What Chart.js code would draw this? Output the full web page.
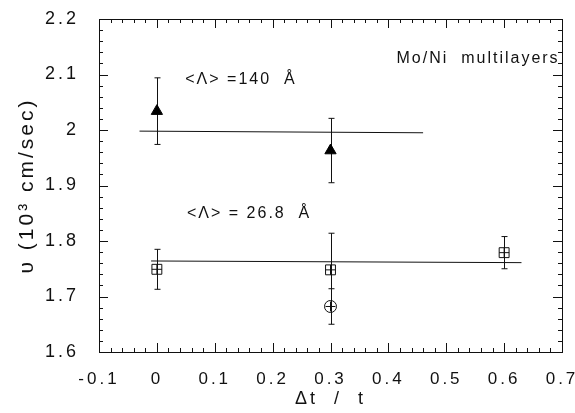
<!DOCTYPE html>
<html><head><meta charset="utf-8">
<script src="https://cdn.jsdelivr.net/npm/chart.js@4"></script>
<style>html,body{margin:0;padding:0;background:#fff}</style>
</head><body>
<canvas id="c" width="575" height="413"></canvas>
<script>
// ---- data ----
const xTicks = [-0.1, 0, 0.1, 0.2, 0.3, 0.4, 0.5, 0.6, 0.7];
const yTicks = [1.6, 1.7, 1.8, 1.9, 2.0, 2.1, 2.2];
const triX = [0, 0.3];
const triY = [2.034, 1.963];
const triErr = [0.060, 0.058];
const sqX = [0, 0.3, 0.6];
const sqY = [1.749, 1.748, 1.779];
const sqErr = [0.036, 0.066, 0.029];
const circX = [0.3];
const circY = [1.682];
const circErr = [0.032];
const fit1X = [-0.03, 0.46];
const fit1Y = [1.998, 1.995];
const fit2X = [-0.01, 0.63];
const fit2Y = [1.764, 1.761];
const notes = [
  {text: 'Mo/Ni  multilayers', x: 0.414, y: 2.1215},
  {text: '<Λ> =140  Å', x: 0.049, y: 2.0836},
  {text: '<Λ> = 26.8  Å', x: 0.052, y: 1.8417}
];

const pts = (xs, ys) => xs.map((x, i) => ({x: x, y: ys[i]}));
const FONT = "'Liberation Sans', Arial, Helvetica, sans-serif";
const INK = '#111';

const spacingPlugin = {
  id: 'spacing',
  beforeLayout(chart) { chart.ctx.letterSpacing = '3px'; },
  beforeDraw(chart) { chart.ctx.letterSpacing = '3px'; }
};

const framePlugin = {
  id: 'frame',
  beforeDatasetsDraw(chart) {
    const ctx = chart.ctx, a = chart.chartArea;
    const xs = chart.scales.x, ys = chart.scales.y;
    ctx.save();
    ctx.strokeStyle = INK; ctx.lineWidth = 1;
    ctx.strokeRect(Math.round(a.left) + 0.5, Math.round(a.top) + 0.5,
      Math.round(a.right - a.left), Math.round(a.bottom - a.top));
    ctx.beginPath();
    for (let k = 0; k <= 40; k++) {
      const v = xs.min + k * 0.02;
      const p = Math.round(xs.getPixelForValue(v)) + 0.5;
      const L = (k % 5 === 0) ? 9 : 4;
      ctx.moveTo(p, a.bottom); ctx.lineTo(p, a.bottom - L);
      ctx.moveTo(p, a.top); ctx.lineTo(p, a.top + L);
    }
    for (let k = 0; k <= 30; k++) {
      const v = ys.min + k * 0.02;
      const p = Math.round(ys.getPixelForValue(v)) + 0.5;
      const L = (k % 5 === 0) ? 9 : 4;
      ctx.moveTo(a.left, p); ctx.lineTo(a.left + L, p);
      ctx.moveTo(a.right, p); ctx.lineTo(a.right - L, p);
    }
    ctx.stroke();
    const bars = (X, Y, E) => {
      X.forEach((x, i) => {
        const px = Math.round(xs.getPixelForValue(x)) + 0.5;
        const t = ys.getPixelForValue(Y[i] + E[i]);
        const b = ys.getPixelForValue(Y[i] - E[i]);
        ctx.moveTo(px, t); ctx.lineTo(px, b);
        ctx.moveTo(px - 3, t); ctx.lineTo(px + 3, t);
        ctx.moveTo(px - 3, b); ctx.lineTo(px + 3, b);
      });
    };
    ctx.beginPath();
    bars(triX, triY, triErr);
    bars(sqX, sqY, sqErr);
    bars(circX, circY, circErr);
    ctx.stroke();
    ctx.restore();
  },
  afterDraw(chart) {
    const ctx = chart.ctx;
    const xs = chart.scales.x, ys = chart.scales.y;
    ctx.save();
    ctx.letterSpacing = '2px';
    ctx.font = '16px ' + FONT;
    ctx.fillStyle = INK;
    ctx.textBaseline = 'alphabetic';
    ctx.textAlign = 'left';
    notes.forEach(n => ctx.fillText(n.text, xs.getPixelForValue(n.x), ys.getPixelForValue(n.y)));
    ctx.restore();
  }
};

const fmt = v => String(Math.round(v * 10) / 10);

new Chart(document.getElementById('c'), {
  type: 'scatter',
  data: {
    datasets: [
      {data: pts(triX, triY), pointStyle: 'triangle', pointRadius: 6.5, backgroundColor: '#000', borderColor: '#000', borderWidth: 1},
      {data: pts(sqX, sqY), pointStyle: 'rect', pointRadius: 7, backgroundColor: 'rgba(0,0,0,0)', borderColor: INK, borderWidth: 1},
      {data: pts(sqX, sqY), pointStyle: 'cross', pointRadius: 5, borderColor: INK, borderWidth: 1},
      {data: pts(circX, circY), pointStyle: 'circle', pointRadius: 6, backgroundColor: 'rgba(0,0,0,0)', borderColor: INK, borderWidth: 1},
      {data: pts(circX, circY), pointStyle: 'cross', pointRadius: 5, borderColor: INK, borderWidth: 1},
      {data: pts(fit1X, fit1Y), showLine: true, pointRadius: 0, borderColor: INK, borderWidth: 1},
      {data: pts(fit2X, fit2Y), showLine: true, pointRadius: 0, borderColor: INK, borderWidth: 1}
    ]
  },
  options: {
    responsive: false,
    animation: false,
    devicePixelRatio: 1,
    layout: {padding: {top: 19, right: 13, left: 0, bottom: 0}},
    plugins: {legend: {display: false}, tooltip: {enabled: false}},
    scales: {
      x: {
        type: 'linear', min: -0.1, max: 0.7,
        afterBuildTicks: s => { s.ticks = xTicks.map(v => ({value: v})); },
        afterFit: s => { s.height = 61; s.paddingLeft = 0; s.paddingRight = 0; },
        grid: {display: false, drawTicks: false}, border: {display: false},
        ticks: {font: {family: FONT, size: 17}, color: INK, padding: 17, maxRotation: 0, autoSkip: false, callback: fmt},
        title: {display: true, text: 'Δt  /  t', font: {family: FONT, size: 18}, color: INK, padding: {top: 0, bottom: 3}}
      },
      y: {
        type: 'linear', min: 1.6, max: 2.2,
        afterBuildTicks: s => { s.ticks = yTicks.map(v => ({value: v})); },
        afterFit: s => { s.width = 99; s.paddingTop = 0; s.paddingBottom = 0; },
        grid: {display: false, drawTicks: false}, border: {display: false},
        ticks: {font: {family: FONT, size: 18}, color: INK, padding: 20, autoSkip: false, callback: fmt},
        title: {display: true, text: 'υ (10³ cm/sec)', font: {family: FONT, size: 21}, color: INK, padding: {top: 15, bottom: 0}}
      }
    }
  },
  plugins: [spacingPlugin, framePlugin]
});
</script>
</body></html>
